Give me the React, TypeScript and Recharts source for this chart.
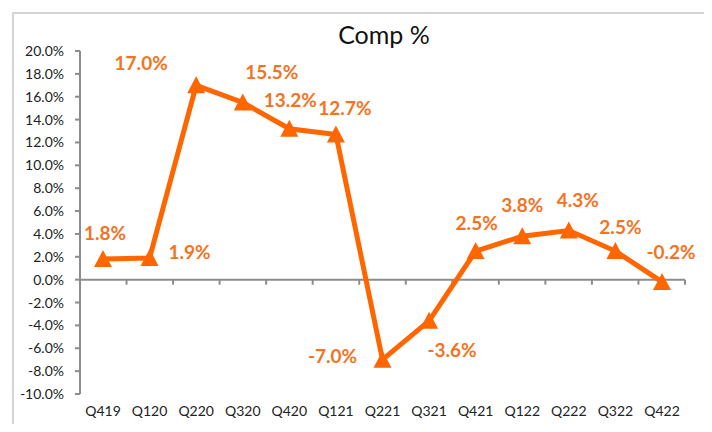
import {
  LineChart,
  Line,
  XAxis,
  YAxis,
  ReferenceLine,
  LabelList,
} from "recharts";

const quarters = [
  "Q419", "Q120", "Q220", "Q320", "Q420", "Q121", "Q221",
  "Q321", "Q421", "Q122", "Q222", "Q322", "Q422",
];
const compValues = [1.8, 1.9, 17.0, 15.5, 13.2, 12.7, -7.0, -3.6, 2.5, 3.8, 4.3, 2.5, -0.2];
const yTicks = [-10, -8, -6, -4, -2, 0, 2, 4, 6, 8, 10, 12, 14, 16, 18, 20];

// where each data label sits relative to its point (dx, dy)
const labelOffsets = [
  [2, -27], [40, -6], [-55, -23], [29, -31], [1, -29], [9, -27], [-50, -4],
  [23, 29], [1, -29], [0, -32], [9, -31], [5, -25], [9, -30],
];

const data = quarters.map((q, i) => ({ q, comp: compValues[i] }));

const ORANGE = "#FF6600";
const LABEL = "#F47322";
const AXIS = "#8c8c8c";
const FONT = "Lato, 'Open Sans', sans-serif";

const Triangle = (props: any) => {
  const { cx, cy } = props;
  if (cx == null || cy == null) return null;
  return (
    <polygon
      points={`${cx},${cy - 9} ${cx + 9},${cy + 8} ${cx - 9},${cy + 8}`}
      fill={ORANGE}
    />
  );
};

const renderLabel = (props: any) => {
  const { x, y, value, index } = props;
  const [dx, dy] = labelOffsets[index] || [0, -28];
  return (
    <text
      x={x + dx}
      y={y + dy}
      textAnchor="middle"
      dominantBaseline="central"
      fill={LABEL}
      fontSize={19}
      fontWeight="bold"
      fontFamily={FONT}
    >
      {`${Number(value).toFixed(1)}%`}
    </text>
  );
};

const ZeroAxis = (props: any) => {
  const { x1, y1, x2 } = props;
  const n = quarters.length;
  const step = (x2 - x1) / n;
  const ticks = [];
  for (let i = 0; i <= n; i++) {
    const tx = x1 + i * step;
    ticks.push(
      <line key={i} x1={tx} y1={y1} x2={tx} y2={y1 + 5} stroke={AXIS} strokeWidth={2} />
    );
  }
  return (
    <g>
      <line x1={x1} y1={y1} x2={x2} y2={y1} stroke={AXIS} strokeWidth={2} />
      {ticks}
    </g>
  );
};

export default function App() {
  return (
    <div
      style={{
        position: "relative",
        width: 712,
        height: 432,
        margin: -8,
        overflow: "hidden",
        background: "#fff",
        fontFamily: FONT,
      }}
    >
      <div
        style={{
          position: "absolute",
          left: 0,
          top: 0,
          width: 712,
          height: 7,
          background: "#009a00",
        }}
      />
      <div
        style={{
          position: "absolute",
          left: 12,
          top: 12,
          width: 694,
          height: 440,
          border: "2px solid #d4d4d4",
          boxSizing: "border-box",
        }}
      />
      <div
        style={{
          position: "absolute",
          left: 0,
          width: 712,
          top: 19,
          textAlign: "center",
          paddingLeft: 56,
          boxSizing: "border-box",
          fontSize: 25,
          color: "#111",
        }}
      >
        Comp %
      </div>
      <div style={{ position: "absolute", left: 0, top: 0 }}>
        <LineChart
          width={712}
          height={432}
          data={data}
          margin={{ top: 51, right: 27, bottom: 8, left: 0 }}
        >
          <XAxis
            dataKey="q"
            axisLine={false}
            tickLine={false}
            height={30}
            tickMargin={6}
            padding={{ left: 23, right: 23 }}
            tick={{ fill: "#222", fontSize: 14, fontFamily: FONT }}
            interval={0}
          />
          <YAxis
            domain={[-10, 20]}
            ticks={yTicks}
            width={80}
            interval={0}
            axisLine={{ stroke: AXIS, strokeWidth: 2 }}
            tickLine={{ stroke: AXIS, strokeWidth: 2 }}
            tickSize={5}
            tickMargin={11}
            tick={{ fill: "#222", fontSize: 14, fontFamily: FONT }}
            tickFormatter={(v: number) => `${v.toFixed(1)}%`}
          />
          <ReferenceLine y={0} shape={ZeroAxis} />
          <Line
            type="linear"
            dataKey="comp"
            stroke={ORANGE}
            strokeWidth={5}
            dot={<Triangle />}
            activeDot={false}
            isAnimationActive={false}
          >
            <LabelList dataKey="comp" content={renderLabel} />
          </Line>
        </LineChart>
      </div>
    </div>
  );
}
